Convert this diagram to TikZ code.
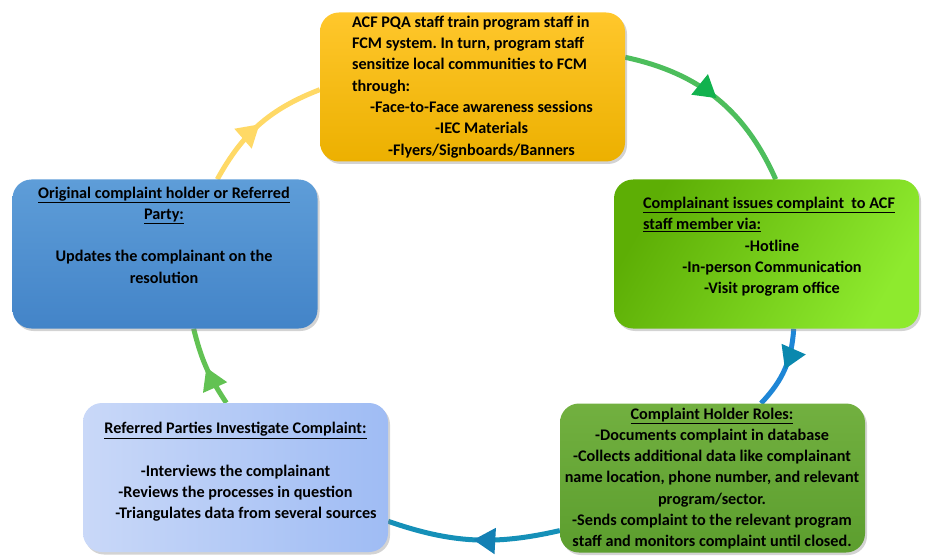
\documentclass[tikz,border=0pt]{standalone}
\usepackage{fontspec}
\setmainfont{Carlito}
\frenchspacing
\usetikzlibrary{arrows.meta,shadows,decorations.markings,calc}
\pgfdeclarelayer{background}
\pgfsetlayers{background,main}
\definecolor{ylw1}{HTML}{FFC72C}
\definecolor{ylw2}{HTML}{ECB000}
\definecolor{grn1}{HTML}{5DAE05}
\definecolor{grn2}{HTML}{8EEA2E}
\definecolor{olv1}{HTML}{72B040}
\definecolor{olv2}{HTML}{5C9E2E}
\definecolor{lbl1}{HTML}{C9D8F8}
\definecolor{lbl2}{HTML}{9FBCF4}
\definecolor{blu1}{HTML}{5E9DD8}
\definecolor{blu2}{HTML}{4384C8}
\definecolor{arcgreen}{HTML}{4DBE5C}
\definecolor{arcgreenhead}{HTML}{12B24E}
\definecolor{arcblue}{HTML}{1E86D6}
\definecolor{arcteal}{HTML}{0A88AE}
\definecolor{arcbottom}{HTML}{1590B8}
\definecolor{arcbottomhead}{HTML}{1480B4}
\definecolor{arclime}{HTML}{62C253}
\definecolor{arcyellow}{HTML}{FFD966}
\tikzset{
  box/.style={rounded corners=19pt, minimum width=305pt, minimum height=149pt,
    inner sep=0pt, draw=none,
    drop shadow={opacity=0.35, shadow xshift=2pt, shadow yshift=-2.5pt}},
  txt/.style={inner sep=0pt, font=\bfseries\fontsize{16.2}{21.3}\selectfont, align=center},
  conn/.style={line width=5pt, color=#1},
  midhead/.style={postaction={decorate},
    decoration={markings, mark=at position 0.5 with {\arrow[#1]{Triangle[length=22pt,width=25pt]}}}}
}
\begin{document}
\begin{tikzpicture}[x=1pt,y=1pt]
\useasboundingbox (0,0) rectangle (928,-556);
% boxes
\node[box, top color=ylw1, bottom color=ylw2] (top) at (472.5,-87) {};
\node[box, left color=grn1, right color=grn2, shading angle=60] (right) at (766.5,-254) {};
\node[box, top color=olv1, bottom color=olv2] (br) at (712.5,-478) {};
\node[box, left color=lbl1, right color=lbl2] (bl) at (235.5,-477.5) {};
\node[box, top color=blu1, bottom color=blu2] (left) at (165,-254) {};
% texts
\node[txt] (ttop) at (472.5,-87) {\begin{tabular}{@{}l@{}}
ACF PQA staff train program staff in\\
FCM system. In turn, program staff\\
sensitize local communities to FCM\\
through:\\
\multicolumn{1}{@{}c@{}}{\hspace*{18pt}-Face-to-Face awareness sessions}\\
\multicolumn{1}{@{}c@{}}{\hspace*{18pt}-IEC Materials}\\
\multicolumn{1}{@{}c@{}}{\hspace*{18pt}-Flyers/Signboards/Banners}
\end{tabular}};
\node[txt] (tright) at (769,-247) {\begin{tabular}{@{}l@{}}
\underline{Complainant issues complaint\ \ to ACF}\\
\underline{staff member via:}\\
\multicolumn{1}{@{}c@{}}{\hspace*{6pt}-Hotline}\\
\multicolumn{1}{@{}c@{}}{\hspace*{6pt}-In-person Communication}\\
\multicolumn{1}{@{}c@{}}{\hspace*{6pt}-Visit program office}
\end{tabular}};
\node[txt] (tbr) at (712,-478.5) {\underline{Complaint Holder Roles:}\\
-Documents complaint in database\\
-Collects additional data like complainant\\
name location, phone number, and relevant\\
program/sector.\\
-Sends complaint to the relevant program\\
staff and monitors complaint until closed.};
\node[txt] (tbl) at (235.5,-472) {\underline{Referred Parties Investigate Complaint:}\\[21.3pt]
-Interviews the complainant\\
-Reviews the processes in question\\
\hspace*{21pt}-Triangulates data from several sources};
\node[txt] (tleft) at (164,-235) {\underline{Original complaint holder or Referred}\\
\underline{Party:}\\[21.3pt]
Updates the complainant on the\\
resolution};
% connectors
\begin{pgfonlayer}{background}
\draw[conn=arcgreen, midhead={arcgreenhead}] (top.11) to[bend left=27] (right.83);
\draw[conn=arcblue, midhead={arcteal}] (right.-70) to[bend left=20] (br.57);
\draw[conn=arcbottom, midhead={arcbottomhead}] (br.199) to[bend left=16] (bl.-16);
\draw[conn=arclime, midhead={arclime}] (bl.97) to[bend left=10] (left.-69);
\draw[conn=arcyellow, midhead={arcyellow}] (left.55) to[bend left=20] (top.181);
\end{pgfonlayer}
\end{tikzpicture}
\end{document}
